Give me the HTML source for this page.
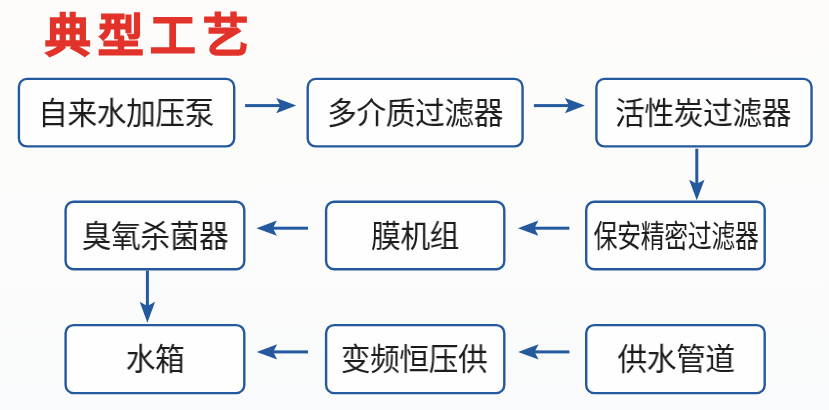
<!DOCTYPE html>
<html lang="zh-CN">
<head>
<meta charset="utf-8">
<style>
html,body{margin:0;padding:0;}
body{width:829px;height:410px;overflow:hidden;background:linear-gradient(180deg,#fdfcfb 0%,#fcfcfb 40%,#f9fafb 100%);position:relative;font-family:"Liberation Sans",sans-serif;}
svg{position:absolute;left:0;top:0;}
.t{position:absolute;font-size:30.5px;line-height:1;color:#1c1c1c;white-space:nowrap;text-align:center;width:300px;transform:scaleX(0.977);will-change:transform;}
.title{position:absolute;left:45px;top:13.5px;font-size:45.5px;line-height:1;font-weight:700;color:#e2332a;letter-spacing:6.5px;-webkit-text-stroke:1.5px #e2332a;will-change:transform;white-space:nowrap;}
</style>
</head>
<body>
<div class="title">典型工艺</div>
<svg width="829" height="410" viewBox="0 0 829 410">
<g fill="#fefefe" stroke="#25599e" stroke-width="2.4">
<rect x="18.9" y="78.9" width="215.3" height="67.5" rx="8"/>
<rect x="307.7" y="78.9" width="214.85" height="67.5" rx="8"/>
<rect x="596.4" y="78.9" width="215.15" height="67.5" rx="8"/>
<rect x="65.6" y="201.7" width="178.7" height="67.6" rx="8"/>
<rect x="326.1" y="201.7" width="178.2" height="67.6" rx="8"/>
<rect x="586.2" y="201.7" width="178.5" height="67.6" rx="8"/>
<rect x="65.6" y="325.1" width="178.7" height="68" rx="8"/>
<rect x="326.1" y="325.1" width="178.2" height="68" rx="8"/>
<rect x="586.2" y="325.1" width="178.5" height="68" rx="8"/>
</g>
<g fill="#25599e" stroke="none">
<!-- right arrows row1 -->
<rect x="245.1" y="104.1" width="37" height="3"/>
<path d="M296.3 105.6 L276.2 98 L280.4 105.6 L276.2 113.3 Z"/>
<rect x="533.9" y="104.1" width="37" height="3"/>
<path d="M585 105.6 L564.9 98 L569 105.6 L564.9 113.3 Z"/>
<!-- down arrow 1 -->
<rect x="695.3" y="148.7" width="3" height="37"/>
<path d="M696.8 200.3 L689.1 179.8 L696.8 183.8 L704.5 179.8 Z"/>
<!-- left arrows row2 -->
<rect x="270" y="226.7" width="38" height="3"/>
<path d="M256.4 228.2 L276.9 220.6 L272.9 228.2 L276.9 235.8 Z"/>
<rect x="531.5" y="226.7" width="37.9" height="3"/>
<path d="M517.9 228.2 L538.4 220.6 L534.4 228.2 L538.4 235.8 Z"/>
<!-- down arrow 2 -->
<rect x="145.9" y="270.5" width="3" height="37"/>
<path d="M147.4 322.8 L139.7 301.8 L147.4 306 L155.1 301.8 Z"/>
<!-- left arrows row3 -->
<rect x="270" y="350.4" width="38" height="3"/>
<path d="M256.7 351.9 L277.2 344.3 L273.2 351.9 L277.2 359.5 Z"/>
<rect x="531.5" y="350.4" width="37.9" height="3"/>
<path d="M518.1 351.9 L538.6 344.3 L534.6 351.9 L538.6 359.5 Z"/>
</g>
</svg>
<div class="t" style="left:-23.90px;top:98px">自来水加压泵</div>
<div class="t" style="left:264.50px;top:98px">多介质过滤器</div>
<div class="t" style="left:553.05px;top:98px">活性炭过滤器</div>
<div class="t" style="left:4.55px;top:221px">臭氧杀菌器</div>
<div class="t" style="left:265.25px;top:221px">膜机组</div>
<div class="t" style="left:525.85px;top:221px;transform:scaleX(0.785)">保安精密过滤器</div>
<div class="t" style="left:5.05px;top:344px">水箱</div>
<div class="t" style="left:264.40px;top:344px">变频恒压供</div>
<div class="t" style="left:525.70px;top:344px">供水管道</div>
</body>
</html>
